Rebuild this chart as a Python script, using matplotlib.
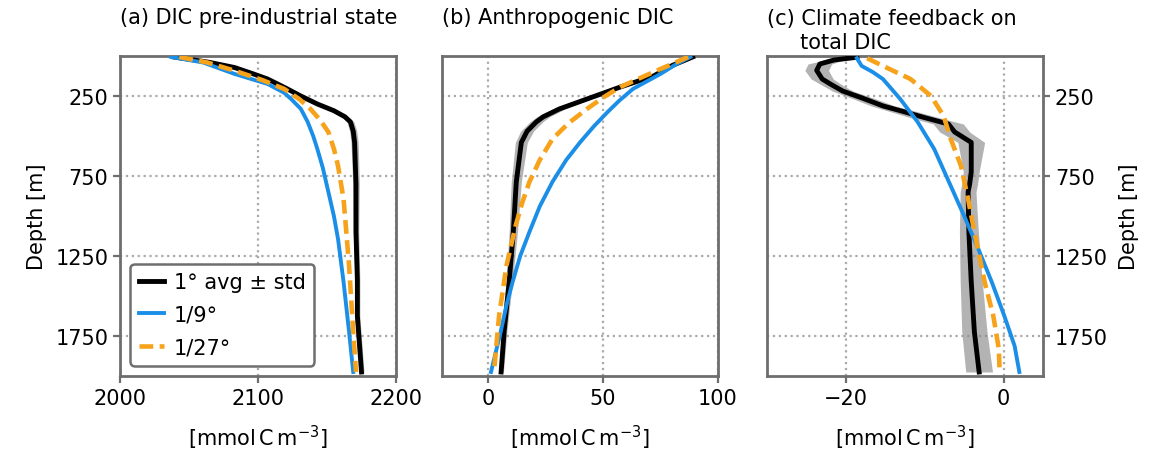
import matplotlib
matplotlib.use("Agg")
import matplotlib.pyplot as plt
import numpy as np

# (a) DIC pre-industrial state
a_avg_depth = [6, 40, 72, 110, 144, 200, 250, 300, 342, 380, 412, 470, 540, 800, 1100, 1400, 1625, 1975]
a_avg = [2039, 2065, 2083, 2096, 2107, 2120, 2131, 2143, 2155, 2163, 2167, 2169, 2170, 2171, 2171, 2172, 2172, 2175]
a_std = [1.5, 1.5, 1.5, 1.5, 1.5, 1.5, 1.8, 2.0, 2.2, 2.4, 2.5, 2.6, 2.6, 2.4, 2.0, 1.8, 1.8, 1.8]

a_19_depth = [6, 40, 112, 175, 230, 269, 330, 412, 500, 581, 700, 850, 1000, 1144, 1412, 1725, 1975]
a_19 = [2037, 2060, 2083, 2107, 2119, 2124, 2131, 2136, 2140, 2143, 2147, 2151, 2155, 2158, 2162, 2166, 2169]

a_127_depth = [6, 40, 92, 150, 206, 270, 331, 400, 475, 580, 687, 894, 1100, 1312, 1725, 1975]
a_127 = [2043, 2063, 2083, 2103, 2119, 2130, 2138, 2145, 2151, 2155, 2158, 2162, 2164, 2166, 2169, 2171]

# (b) Anthropogenic DIC
b_avg_depth = [6, 60, 125, 194, 269, 331, 380, 412, 470, 540, 787, 1100, 1412, 1725, 1975]
b_avg = [89, 80, 72, 57.5, 43, 31, 24, 21, 17, 14.5, 12.3, 11, 9.2, 7, 5.7]
b_std = [0.5, 0.8, 1.0, 1.2, 1.8, 2.5, 2.8, 2.8, 2.8, 2.6, 2.2, 1.8, 1.4, 1.2, 1.0]

b_19_depth = [6, 50, 112, 206, 280, 350, 440, 540, 650, 787, 940, 1100, 1250, 1412, 1560, 1725, 1975]
b_19 = [88, 82, 75, 63, 57, 52, 46, 40, 34, 28, 22.5, 18, 14, 10.7, 8, 5.5, 1.3]

b_127_depth = [6, 50, 100, 194, 260, 331, 420, 519, 650, 787, 920, 1062, 1312, 1625, 1975]
b_127 = [87, 80, 72, 57.5, 50, 43, 35, 28, 22.5, 18, 14.8, 12, 8, 4.8, 2.6]

# (c) Climate feedback on total DIC
c_avg_depth = [8, 25, 50, 90, 144, 180, 219, 265, 312, 350, 384, 425, 475, 540, 725, 800, 850, 1100, 1412, 1725, 1975]
c_avg = [-18.6, -21.5, -23.3, -23.7, -23.0, -21.8, -20.4, -17.8, -15.3, -12.5, -10.1, -7.0, -6.2, -4.1, -4.1, -4.3, -4.5, -4.4, -4.1, -3.7, -3.1]
c_std = [0.8, 1.2, 1.5, 1.5, 1.4, 1.3, 1.3, 1.4, 1.5, 1.7, 1.8, 1.9, 1.9, 1.7, 1.0, 1.0, 1.0, 1.2, 1.4, 1.6, 1.7]

c_19_depth = [14, 62, 100, 144, 269, 412, 581, 812, 1000, 1206, 1412, 1625, 1812, 1975]
c_19 = [-18.6, -18.0, -16.6, -15.3, -13.1, -10.9, -8.8, -6.7, -5.0, -3.2, -1.5, 0.1, 1.4, 2.0]

c_127_depth = [14, 62, 144, 250, 375, 519, 687, 894, 1100, 1412, 1625, 1831, 1975]
c_127 = [-17.3, -15.3, -11.8, -9.2, -7.6, -6.7, -5.4, -4.5, -3.7, -2.4, -1.3, -0.6, -0.5]

BLACK = "black"
BLUE = "#1b8fe8"
ORANGE = "#f7a21b"
SPINE = "#6e6e6e"
FS = 15

plt.rcParams["font.family"] = "DejaVu Sans"
plt.rcParams["font.size"] = FS

fig = plt.figure(figsize=(11.5, 4.56), dpi=100)
lefts = [120 / 1150, 442 / 1150, 767 / 1150]
w = 276 / 1150
bottom = 79 / 456
h = 320 / 456
axes = [fig.add_axes([l, bottom, w, h]) for l in lefts]

panels = [
    (a_avg_depth, a_avg, a_std, a_19_depth, a_19, a_127_depth, a_127),
    (b_avg_depth, b_avg, b_std, b_19_depth, b_19, b_127_depth, b_127),
    (c_avg_depth, c_avg, c_std, c_19_depth, c_19, c_127_depth, c_127),
]
xlims = [(2000, 2200), (-20, 100), (-30, 5)]
xticks = [[2000, 2100, 2200], [0, 50, 100], [-20, 0]]
titles = ["(a) DIC pre-industrial state", "(b) Anthropogenic DIC",
          "(c) Climate feedback on\n     total DIC"]

for i, ax in enumerate(axes):
    d_avg, avg, std, d19, v19, d127, v127 = panels[i]
    avg = np.array(avg)
    std = np.array(std)
    ax.fill_betweenx(d_avg, avg - std, avg + std, color="#8a8a8a", alpha=0.65, lw=0, zorder=2)
    ax.plot(avg, d_avg, color=BLACK, lw=3.5, label="1° avg ± std", zorder=3)
    ax.plot(v19, d19, color=BLUE, lw=2.8, label="1/9°", zorder=4)
    ax.plot(v127, d127, color=ORANGE, lw=3.3, ls=(0, (3.0, 1.4)), label="1/27°", zorder=5)

    ax.set_ylim(2000, 0)
    ax.set_xlim(*xlims[i])
    ax.set_xticks(xticks[i])
    ax.set_yticks([250, 750, 1250, 1750])
    ax.grid(True, ls=":", color="#aaaaaa", lw=1.6)
    for s in ax.spines.values():
        s.set_color(SPINE)
        s.set_linewidth(2)
    ax.tick_params(color=SPINE, width=1.6, length=5, labelsize=FS)
    ax.set_xlabel(r"[mmol$\,$C$\,$m$^{-3}$]", fontsize=FS, labelpad=11)
    ax.set_title(titles[i], loc="left", fontsize=FS, pad=6 if i == 2 else 24)

axes[0].set_ylabel("Depth [m]", fontsize=FS, labelpad=6)
axes[1].tick_params(axis="y", left=False, labelleft=False)
axes[2].yaxis.tick_right()
axes[2].yaxis.set_label_position("right")
axes[2].set_ylabel("Depth [m]", fontsize=FS, labelpad=8)

leg = axes[0].legend(loc="lower left", handlelength=1.2, handletextpad=0.5,
                     labelspacing=0.6, fontsize=FS, framealpha=1, fancybox=True)
leg.get_frame().set_edgecolor(SPINE)
leg.get_frame().set_linewidth(1.8)

fig.savefig("out.png", dpi=100)
